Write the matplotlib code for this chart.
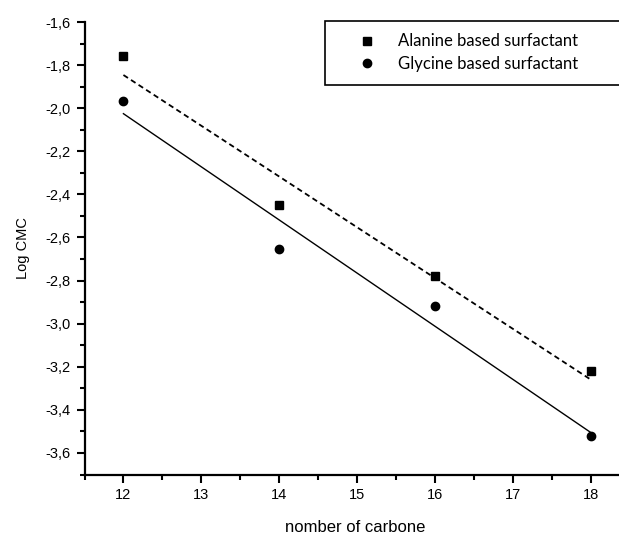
import numpy as np
import matplotlib
matplotlib.use('Agg')
import matplotlib.pyplot as plt
import matplotlib.ticker as ticker

# 碳链长度与 log CMC
carbons = [12, 14, 16, 18]
alanine_logcmc = [-1.76, -2.45, -2.78, -3.22]
glycine_logcmc = [-1.965, -2.655, -2.92, -3.52]

series_names = ['Alanine based surfactant', 'Glycine based surfactant']
x_label = 'nomber of carbone'
y_label = 'Log CMC'

plt.rcParams['font.family'] = ['Liberation Sans', 'DejaVu Sans']

fig = plt.figure(figsize=(6.19, 5.37), dpi=100)
ax = fig.add_axes([84.5 / 619, 1 - 474.5 / 537, 545 / 619, 452.5 / 537])

x = np.array(carbons, dtype=float)

# 散点
ax.plot(x, alanine_logcmc, 's', color='black', markersize=5.2, label=series_names[0])
ax.plot(x, glycine_logcmc, 'o', color='black', markersize=6, label=series_names[1])

# 线性拟合
k1, b1 = np.polyfit(x, alanine_logcmc, 1)
k2, b2 = np.polyfit(x, glycine_logcmc, 1)
xf = np.array([x.min(), x.max()])
ax.plot(xf, k1 * xf + b1, color='black', lw=1.3, linestyle=(0, (3, 2)))
ax.plot(xf, k2 * xf + b2, color='black', lw=1.0)

ax.set_xlim(11.5, 18.5)
ax.set_ylim(-3.7, -1.6)

ax.xaxis.set_major_locator(ticker.MultipleLocator(1))
ax.xaxis.set_minor_locator(ticker.MultipleLocator(0.5))
ax.yaxis.set_major_locator(ticker.MultipleLocator(0.2))
ax.yaxis.set_minor_locator(ticker.MultipleLocator(0.1))
ax.yaxis.set_major_formatter(ticker.FuncFormatter(lambda v, p: ('%.1f' % v).replace('.', ',')))

for s in ['top', 'right']:
    ax.spines[s].set_visible(False)
for s in ['left', 'bottom']:
    ax.spines[s].set_linewidth(1.6)

ax.tick_params(which='major', direction='out', length=6, width=1.5, labelsize=10.5, pad=4)
ax.tick_params(which='minor', direction='out', length=3.5, width=1.5)

ax.set_xlabel(x_label, fontsize=12)
ax.set_ylabel(y_label, fontsize=10.5)
ax.xaxis.set_label_coords((355 - 84.5) / 545, -(520 - 474.5) / 452.5)
ax.yaxis.set_label_coords(-(84.5 - 30) / 545, (474.5 - 248) / 452.5)

leg = ax.legend(loc='upper left',
                bbox_to_anchor=(325 / 619, 1 - 21 / 537, 1.05 - 325 / 619, 0),
                bbox_transform=fig.transFigure, mode='expand',
                frameon=True, fancybox=False, shadow=False,
                prop={'family': 'Lato', 'size': 12},
                handlelength=3.5, handletextpad=0.15, borderpad=0.75,
                labelspacing=0.4, borderaxespad=0)
leg.get_frame().set_edgecolor('black')
leg.get_frame().set_linewidth(1.2)
leg.get_frame().set_alpha(1)

fig.savefig('out.png', dpi=100)
